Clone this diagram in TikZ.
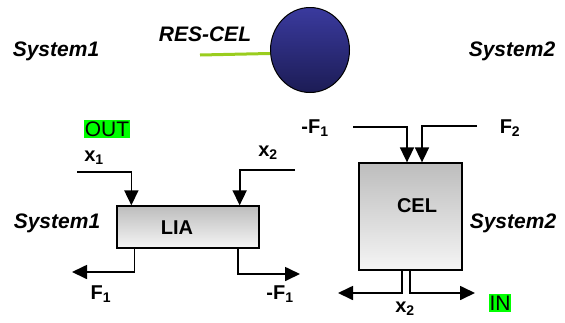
\documentclass[tikz,border=0pt]{standalone}
\usepackage{fontspec}
\setmainfont{Liberation Sans}
\usepackage{tikz}
\usetikzlibrary{arrows.meta,positioning,calc,shapes.geometric}
\definecolor{CellNavyTop}{HTML}{3A3A9E}
\definecolor{CellNavyBot}{HTML}{1C1C55}
\definecolor{LinkGreen}{HTML}{9ACD1E}
\definecolor{MarkGreen}{HTML}{00FF00}
\definecolor{BoxGray}{HTML}{BDBDBD}
\tikzset{
  syslabel/.style={font=\fontsize{21}{24}\selectfont\bfseries\itshape, inner sep=0pt},
  flowlabel/.style={font=\fontsize{20}{23}\selectfont\bfseries, inner sep=0pt},
  marklabel/.style={font=\fontsize{21}{23}\selectfont, fill=MarkGreen, inner xsep=0.5pt, inner ysep=1.5pt},
  unitbox/.style={draw=black, line width=1.3pt, top color=BoxGray, bottom color=white!96!black, inner sep=0pt},
  flowline/.style={-{Triangle[width=14pt,length=15pt]}, line width=1.7pt},
  linkline/.style={draw=LinkGreen, line width=3pt}
}
\begin{document}
\begin{tikzpicture}[x=1pt, y=-1pt]
\useasboundingbox (0,0) rectangle (565,322);
% top row: cell ball and its link
\node[syslabel] (systopa) at (56,51) {System1};
\node[syslabel] (systopb) at (512,51) {System2};
\node[ellipse, draw=black, line width=1pt, top color=CellNavyTop, bottom color=CellNavyBot,
      minimum width=79pt, minimum height=85pt, inner sep=0pt] (rescel) at (310,50) {};
\node[syslabel] (rescellbl) at (205,34) {RES-CEL};
\coordinate (linkstart) at (200,55);
\draw[linkline] (linkstart) -- (rescel.185);

% LIA unit
\node[unitbox, minimum width=142pt, minimum height=42pt] (lia) at (188,227) {};
\node[flowlabel] (liatext) at (177,228) {LIA};
\node[syslabel] (sysmida) at (57,223) {System1};
\node[marklabel] (outmark) at (107,129) {OUT};
\coordinate (xastart) at (77,172);
\coordinate (xbstart) at (295,170);
\coordinate (faend) at (72,272);
\coordinate (fbend) at (300,274);
\draw[flowline] (xastart) -| ($(lia.north west)+(15,0)$);
\draw[flowline] (xbstart) -| ($(lia.north east)+(-20,0)$);
\draw[flowline] ($(lia.south west)+(18,0)$) |- (faend);
\draw[flowline] ($(lia.south east)+(-22,0)$) |- (fbend);
\node[flowlabel] (xalbl) at (94,158) {x\textsubscript{1}};
\node[flowlabel] (xblbl) at (268,153) {x\textsubscript{2}};
\node[flowlabel] (falbl) at (101,294) {F\textsubscript{1}};
\node[flowlabel] (fblbl) at (280,294) {-F\textsubscript{1}};

% CEL unit
\node[unitbox, minimum width=103pt, minimum height=107pt] (cel) at (410.5,216.5) {};
\node[flowlabel] (celtext) at (417,206) {CEL};
\node[syslabel] (sysmidb) at (513,223) {System2};
\coordinate (fcstart) at (353,127);
\coordinate (fdstart) at (477,126);
\coordinate (celleft) at (338,293);
\coordinate (celright) at (475,293);
\draw[flowline] (fcstart) -| ($(cel.north)+(-3.5,0)$);
\draw[flowline] (fdstart) -| ($(cel.north)+(11.5,0)$);
\draw[flowline] ($(cel.south)+(-8.5,0)$) |- (celleft);
\draw[flowline] ($(cel.south)+(-0.5,0)$) |- (celright);
\node[flowlabel] (fclbl) at (315,128) {-F\textsubscript{1}};
\node[flowlabel] (fdlbl) at (510,128) {F\textsubscript{2}};
\node[flowlabel] (xclbl) at (405,309) {x\textsubscript{2}};
\node[marklabel] (inmark) at (500,303) {IN};
\end{tikzpicture}
\end{document}
